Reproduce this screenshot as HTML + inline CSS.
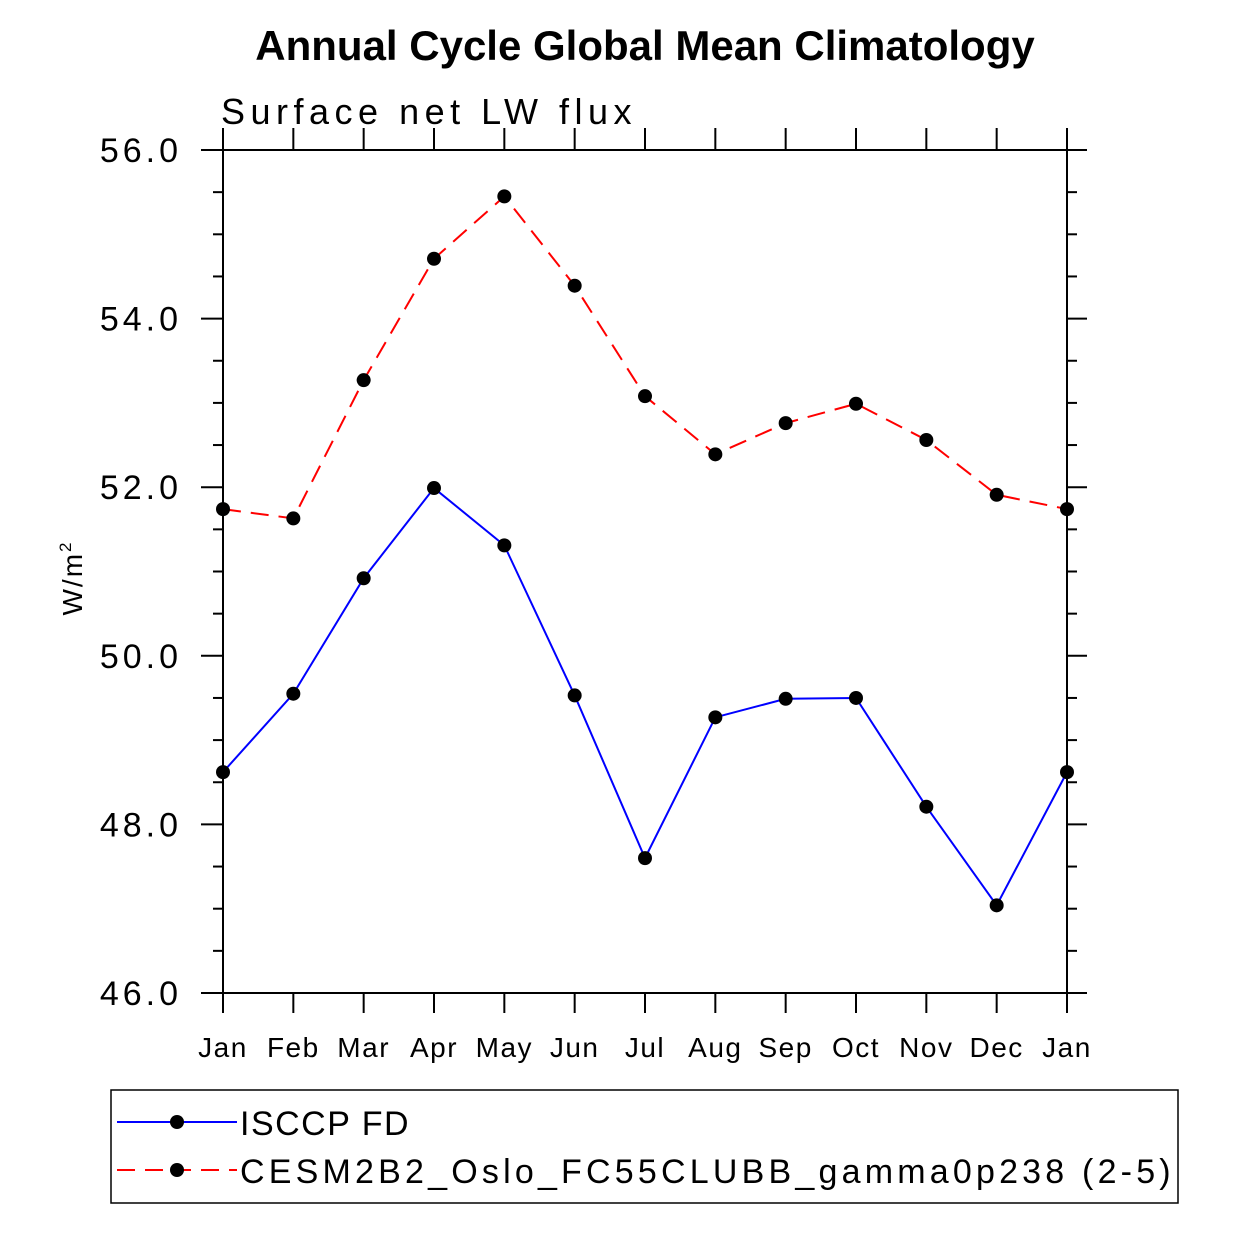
<!DOCTYPE html>
<html><head><meta charset="utf-8"><style>
body{margin:0;background:#fff}
svg text{font-family:"Liberation Sans",sans-serif}
</style></head><body>
<svg id="c" width="1233" height="1233" xmlns="http://www.w3.org/2000/svg">
<text x="645" y="60" text-anchor="middle" font-size="42" font-weight="bold">Annual Cycle Global Mean Climatology</text>
<text x="221" y="124" font-size="36" letter-spacing="5.5">Surface net LW flux</text>
<text transform="translate(82,578) rotate(-90)" text-anchor="middle" font-size="28" letter-spacing="2">W/m<tspan dy="-11" font-size="17">2</tspan></text>
<rect x="223" y="150" width="844" height="843" fill="none" stroke="#000" stroke-width="2"/>
<g id="axes"></g>
<g id="series"></g>
<rect x="111" y="1090" width="1067" height="113" fill="none" stroke="#000" stroke-width="1.5"/>
<g>
<line x1="117" y1="1122" x2="237" y2="1122" stroke="#00f" stroke-width="2"/>
<circle cx="177" cy="1122" r="7"/>
<text x="240" y="1135" font-size="34" letter-spacing="1.5">ISCCP FD</text></g>
<g>
<line x1="117" y1="1170" x2="237" y2="1170" stroke="#f00" stroke-width="2" stroke-dasharray="18,10"/>
<circle cx="177" cy="1170" r="7"/>
<text x="240" y="1183" font-size="34" letter-spacing="4.2">CESM2B2_Oslo_FC55CLUBB_gamma0p238 (2-5)</text></g>
</svg>
<script>
const months=["Jan","Feb","Mar","Apr","May","Jun","Jul","Aug","Sep","Oct","Nov","Dec","Jan"];
const obsValues=[48.62,49.55,50.92,51.99,51.31,49.53,47.60,49.27,49.49,49.50,48.21,47.04,48.62];
const modelValues=[51.74,51.63,53.27,54.71,55.45,54.39,53.08,52.39,52.76,52.99,52.56,51.91,51.74];
const yTicks=["46.0","48.0","50.0","52.0","54.0","56.0"];
const NS="http://www.w3.org/2000/svg";
const X0=223,X1=1067,Y0=993,Y1=150,YMIN=46,YMAX=56;
const xs=i=>X0+(X1-X0)*i/(months.length-1);
const ys=v=>Y0-(Y0-Y1)*(v-YMIN)/(YMAX-YMIN);
function mk(t,a,p){const e=document.createElementNS(NS,t);for(const k in a)e.setAttribute(k,a[k]);p.appendChild(e);return e;}
const ax=document.getElementById("axes");
months.forEach((m,i)=>{const x=xs(i);
 mk("line",{x1:x,y1:Y0,x2:x,y2:Y0+20,stroke:"#000","stroke-width":2},ax);
 mk("line",{x1:x,y1:Y1,x2:x,y2:Y1-22,stroke:"#000","stroke-width":2},ax);
 const t=mk("text",{x:x,y:1057,"text-anchor":"middle","font-size":28,"letter-spacing":1.5},ax);
 
 
 t.textContent=m;});
for(let v=YMIN;v<=YMAX+1e-9;v+=0.5){const y=ys(v);const major=Math.abs(v%2)<1e-9;const L=major?22:10;
 mk("line",{x1:X0-L,y1:y,x2:X0,y2:y,stroke:"#000","stroke-width":2},ax);
 mk("line",{x1:X1,y1:y,x2:X1+(major?20:10),y2:y,stroke:"#000","stroke-width":2},ax);}
yTicks.forEach(s=>{const y=ys(parseFloat(s));
 const t=mk("text",{x:182,y:y+12,"text-anchor":"end","font-size":34,"letter-spacing":4},ax);
 
 
 t.textContent=s;});
const sg=document.getElementById("series");
function series(vals,color,dash,name){
 const g=mk("g",{},sg);
 
 
 const pts=vals.map((v,i)=>xs(i)+","+ys(v)).join(" ");
 const a={points:pts,fill:"none",stroke:color,"stroke-width":2};if(dash)a["stroke-dasharray"]=dash;
 mk("polyline",a,g);
 vals.forEach((v,i)=>{const c=mk("circle",{cx:xs(i),cy:ys(v),r:7},g);
  
  });}
series(obsValues,"#00f",null,"series-isccp");
series(modelValues,"#f00","18,10","series-cesm");
</script>
</body></html>
